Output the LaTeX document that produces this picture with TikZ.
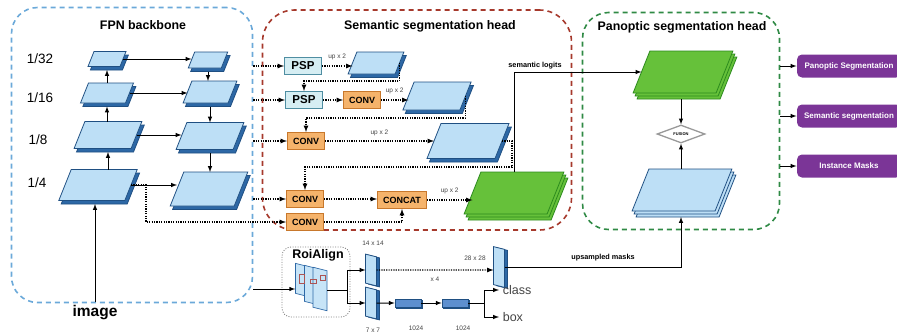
\documentclass[tikz,border=0pt]{standalone}
\usepackage{fontspec}
\setmainfont{Liberation Sans}
\usetikzlibrary{shapes.geometric,shadows,arrows}

\definecolor{slabfill}{HTML}{BDDFF6}
\definecolor{slabdraw}{HTML}{1F4F82}
\definecolor{slabside}{HTML}{2D68A6}
\definecolor{grfill}{HTML}{66C13A}
\definecolor{grdraw}{HTML}{2B8A1D}
\definecolor{pspfill}{HTML}{D6EEF3}
\definecolor{pspdraw}{HTML}{4F8EA2}
\definecolor{convfill}{HTML}{F5B36B}
\definecolor{convdraw}{HTML}{C8782C}
\definecolor{outfill}{HTML}{7B3597}
\definecolor{fpnline}{HTML}{6BA9D9}
\definecolor{semline}{HTML}{A6392C}
\definecolor{panline}{HTML}{2F8A45}
\definecolor{fcfill}{HTML}{5D8FCF}
\definecolor{txtgray}{HTML}{444444}

\begin{document}
\begin{tikzpicture}[x=1pt, y=-1pt, >=latex, line width=1pt,
  slabbase/.style={rectangle, xslant=0.4, inner sep=0pt, outer sep=0pt, line width=0.8pt,
    fill=slabfill, draw=slabdraw},
  slab/.style={slabbase, copy shadow={shadow xshift=2.4pt, shadow yshift=-3.5pt, fill=slabside, draw=slabdraw}},
  stackslab/.style={slabbase, double copy shadow={shadow xshift=2pt, shadow yshift=-3pt}},
  green/.style={fill=grfill, draw=grdraw},
  sz/.style 2 args={minimum width=#1pt, minimum height=#2pt},
  vslab/.style={rectangle, yslant=-0.25, inner sep=0pt, outer sep=0pt, line width=0.8pt, fill=slabfill, draw=slabdraw,
    copy shadow={shadow xshift=3pt, shadow yshift=-1pt, fill=slabside, draw=slabdraw}},
  fc/.style={rectangle, inner sep=0pt, minimum width=26pt, minimum height=8pt, line width=0.6pt,
    fill=fcfill, draw=slabdraw, copy shadow={shadow xshift=1.5pt, shadow yshift=-1.5pt, fill=slabside, draw=slabdraw}},
  roi/.style={rectangle, yslant=-0.25, inner sep=0pt, line width=0.7pt, fill=slabfill!85!white, draw=slabside},
  pink/.style={rectangle, inner sep=0pt, line width=0.6pt, draw=red!35!gray},
  grp/.style={draw=#1, line width=1.6pt, dash pattern=on 5pt off 4pt, rounded corners=26pt},
  roibox/.style={draw=gray, line width=0.8pt, dash pattern=on 1pt off 1.5pt, rounded corners=9pt},
  psp/.style={rectangle, draw=pspdraw, fill=pspfill, line width=0.9pt, minimum width=37pt,
    minimum height=17pt, inner sep=1pt, font=\bfseries\fontsize{11.5}{13}\selectfont},
  conv/.style={rectangle, draw=convdraw, fill=convfill, line width=0.9pt, minimum width=37pt,
    minimum height=17pt, inner sep=1pt, font=\bfseries\fontsize{9}{11}\selectfont},
  outbox/.style={rectangle, fill=outfill, rounded corners=5pt, minimum width=104pt, minimum height=23pt,
    text=white, font=\bfseries\fontsize{8}{9}\selectfont},
  title/.style={font=\bfseries\fontsize{12.4}{14}\selectfont},
  scl/.style={font=\fontsize{13.5}{15}\selectfont},
  small/.style={text=txtgray, font=\fontsize{6.5}{8}\selectfont},
  tiny/.style={font=\bfseries\fontsize{7.3}{8}\selectfont},
  dl/.style={->, line width=1.2pt, dash pattern=on 1.2pt off 1.2pt}]

\useasboundingbox (0,0) rectangle (897,335);

% Gruppen
\node[grp=fpnline, minimum width=241pt, minimum height=295pt] (FB) at (132,155) {};
\node[grp=semline, rounded corners=32pt, minimum width=309pt, minimum height=220pt] (SH) at (417,120) {};
\node[grp=panline, minimum width=197pt, minimum height=217pt] (PH) at (681,121) {};
\node[roibox, minimum width=68pt, minimum height=70pt] (RB) at (316,282) {};

\node[title] (tF) at (143,25) {FPN backbone};
\node[title] (tS) at (430,26) {Semantic segmentation head};
\node[title] (tP) at (682,27) {Panoptic segmentation head};

% FPN backbone
\node[scl] (s32) at (40,59)  {1/32};
\node[scl] (s16) at (40,98)  {1/16};
\node[scl] (s8)  at (38,140) {1/8};
\node[scl] (s4)  at (37,183) {1/4};
\node[font=\bfseries\fontsize{15.5}{17}\selectfont] (img) at (95,313) {image};

\node[slab, sz={32}{15}] (L32) at (107,59)  {};
\node[slab, sz={45}{20}] (L16) at (107,93)  {};
\node[slab, sz={57}{27}] (L8)  at (108,135) {};
\node[slab, sz={66}{31}] (L4)  at (98,185)  {};
\node[slab, sz={33}{16}] (R32) at (208,60)  {};
\node[slab, sz={45}{22}] (R16) at (210,92)  {};
\node[slab, sz={57}{27}] (R8)  at (210,136) {};
\node[slab, sz={64}{34}] (R4)  at (209,189) {};

\draw[->, shorten >=3.5pt] (img) -- (img |- L4.south);
\draw[->, shorten >=3.5pt] (L8 |- L4.north) -- (L8 |- L8.south);
\draw[->, shorten >=3.5pt] (L16 |- L8.north) -- (L16 |- L16.south);
\draw[->, shorten >=3.5pt] (L32 |- L16.north) -- (L32 |- L32.south);
\draw[->] (L32.east) -- (L32.east -| R32.west);
\draw[->] (L16.east) -- (L16.east -| R16.west);
\draw[->] (L8.east) -- (L8.east -| R8.west);
\draw[->] (L4.east) -- (L4.east -| R4.west);
\draw[->, shorten <=3.5pt] (R32 |- R32.south) -- (R32 |- R16.north);
\draw[->, shorten <=3.5pt] (R16 |- R16.south) -- (R16 |- R8.north);
\draw[->, shorten <=3.5pt] (R8 |- R8.south) -- (R8 |- R4.north);

% Semantic segmentation head
\node[psp]  (P1) at (303,66)  {PSP};
\node[psp]  (P2) at (304,100) {PSP};
\node[conv] (C2) at (362,100) {CONV};
\node[conv] (C3) at (306,141) {CONV};
\node[conv] (C4) at (305,199) {CONV};
\node[conv] (C5) at (305,222) {CONV};
\node[conv, minimum width=49pt] (CC) at (402,200) {CONCAT};

\node[slab, sz={47}{22}] (SA) at (376,63)  {};
\node[slab, sz={57}{28}] (SB) at (437,96)  {};
\node[slab, sz={68}{35}] (SC) at (468,141) {};
\node[stackslab, green, sz={83}{42}] (G) at (514,193) {};

\draw[dl] (FB.east |- P1) -- (P1);
\draw[dl] (FB.east |- P2) -- (P2);
\draw[dl] (FB.east |- C3) -- (C3);
\draw[dl] (FB.east |- C4) -- (C4);
\draw[dl] (L4.east) -- ++(15,0) |- (C5);

\draw[dl] (P1) -- (P1 -| SA.west) node[small, pos=0.5, above=2pt] (u1) {up x 2};
\draw[dl] (SA.east) -- ++(0,18) -| (P2);
\draw[dl] (P2) -- (C2);
\draw[dl] (C2) -- (C2 -| SB.west) node[small, pos=0.5, above=2pt] (u2) {up x 2};
\draw[dl] (SB.east) -- ++(0,22) -| (C3);
\draw[dl] (C3) -- (C3 -| SC.west) node[small, pos=0.5, above=1pt] (u3) {up x 2};
\draw[dl] (SC.east) -- ++(10,0) -- ++(0,26) -| (C4);
\draw[dl] (C4) -- (C4 -| CC.west);
\draw[dl] (C5) -| (CC);
\draw[dl] (CC) -- (CC -| G.west) node[small, pos=0.5, above=2pt] (u4) {up x 2};

% Panoptic segmentation head
\node[stackslab, green, sz={83}{42}] (P) at (683,72)  {};
\node[stackslab, sz={83}{42}]        (Q) at (682,190) {};
\node[diamond, aspect=2.6, draw=gray!80, fill=white, line width=1.3pt, inner sep=0pt,
  minimum width=48pt, minimum height=18pt, font=\bfseries\fontsize{4}{5}\selectfont] (F) at (681,134) {FUSION};

\draw[->] (G |- G.north) |- (P);
\node[tiny] (sl) at (535,66) {semantic logits};
\draw[->, shorten <=6pt] (F |- P.south) -- (F);
\draw[->] (F |- Q.north) -- (F);

\node[outbox] (O1) at (849,66)  {Panoptic Segmentation};
\node[outbox] (O2) at (849,116) {Semantic segmentation};
\node[outbox] (O3) at (849,166) {Instance Masks};
\draw[->] (PH.east |- O1) -- (O1);
\draw[->] (PH.east |- O2) -- (O2);
\draw[->] (PH.east |- O3) -- (O3);

% Maskenzweig
\node[font=\bfseries\fontsize{12.5}{14}\selectfont] (tR) at (318,255) {RoiAlign};
\node[roi, minimum width=13pt, minimum height=30pt] (A1) at (302,280) {};
\node[roi, minimum width=13pt, minimum height=36pt] (A2) at (311,285) {};
\node[roi, minimum width=14pt, minimum height=40pt] (A3) at (320,289) {};
\node[pink, minimum width=5pt, minimum height=9pt] (k1) at (302,279) {};
\node[pink, minimum width=6pt, minimum height=4pt] (k2) at (313,281) {};
\node[pink, minimum width=5pt, minimum height=5pt] (k3) at (323,278) {};

\node[vslab, minimum width=11pt, minimum height=29pt] (M1) at (371,270) {};
\node[vslab, minimum width=11pt, minimum height=29pt] (M2) at (371,303) {};
\node[vslab, minimum width=11pt, minimum height=38pt] (M3) at (499,267) {};
\node[fc] (FC1) at (408,303) {};
\node[fc] (FC2) at (455,303) {};
\node[anchor=west, text=txtgray, font=\fontsize{12.5}{14}\selectfont] (cls) at (499,290) {class};
\node[anchor=west, text=txtgray, font=\fontsize{12.5}{14}\selectfont] (box) at (499,317) {box};

\node[small] (n14) at (373,243) {14 x 14};
\node[small] (n7)  at (373,330) {7 x 7};
\node[small] (n28) at (475,258) {28 x 28};
\node[small] (n1)  at (416,328) {1024};
\node[small] (n2)  at (463,328) {1024};
\node[tiny]  (um)  at (603,258) {upsampled masks};

\draw[->] (FB.east |- A3) -- (A3 -| A1.west);
\draw[->] (A3.east) -- ++(20,0) |- (M1);
\draw[->] (A3.east) -- ++(20,0) |- (M2);
\draw[dl] (M1) -- (M1 -| M3.west) node[small, pos=0.5, below=3pt] (x4) {x 4};
\draw[->, shorten >=6pt] (M3) -| (F |- Q.south);
\draw[->] (M2) -- (FC1);
\draw[->] (FC1) -- (FC2);
\draw[->] (FC2.east) -- ++(16,0) |- (cls);
\draw[->] (FC2.east) -- ++(16,0) |- (box);

\end{tikzpicture}
\end{document}
